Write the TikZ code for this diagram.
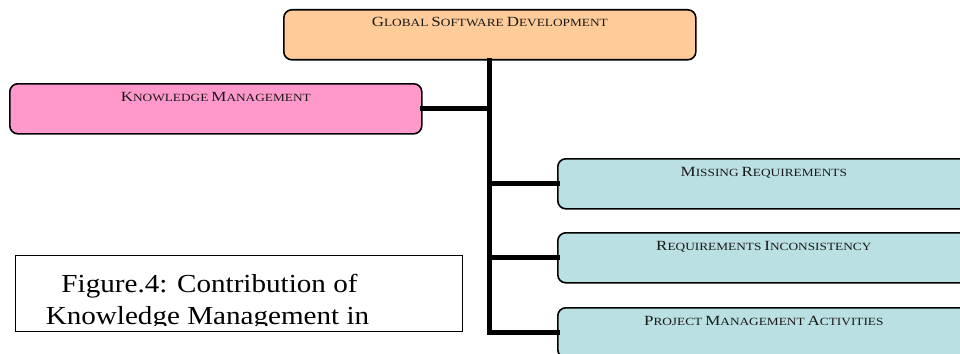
\documentclass[tikz,border=0pt]{standalone}
\usepackage{fontspec}
\setmainfont{Liberation Serif}
\definecolor{gsdfill}{HTML}{FFCC99}
\definecolor{kmfill}{HTML}{FF99CC}
\definecolor{bluefill}{HTML}{BBE0E3}
\newcommand\smc[2]{{\fontsize{14}{14}\selectfont #1}{\fontsize{11}{11}\selectfont #2}}
\newcommand\widelab[1]{\scalebox{1.21}[1]{#1}}
\newcommand\widecap[1]{\scalebox{1.12}[1]{#1}}
\tikzset{
  boxnode/.style={draw=black, line width=1.6pt, rounded corners=8pt, inner sep=0pt,
    anchor=north west, minimum width=412pt, minimum height=50pt},
  lab/.style={anchor=base, inner sep=0pt, text=black!90},
  conn/.style={line width=5pt, draw=black, line cap=rect, line join=miter},
  captext/.style={anchor=base, inner sep=0pt, font=\fontsize{26}{31}\selectfont},
}
\begin{document}
\begin{tikzpicture}[x=1pt,y=-1pt]
\clip (0,0) rectangle (960,353);
\fill[white] (0,0) rectangle (960,353);
\node[boxnode, fill=gsdfill] (gsd) at (283,9) {};
\node[boxnode, fill=kmfill] (km) at (9,83) {};
\node[boxnode, fill=bluefill] (mr) at (557,158) {};
\node[boxnode, fill=bluefill] (ri) at (557,232) {};
\node[boxnode, fill=bluefill] (pm) at (557,307) {};
\draw[conn] (gsd.south) -- (gsd.south |- pm.west) -- (pm.west);
\draw[conn] (km.east) -- (km.east -| gsd.south);
\draw[conn] (mr.west -| gsd.south) -- (mr.west);
\draw[conn] (ri.west -| gsd.south) -- (ri.west);
\node[lab] (gsdL) at ([yshift=-18pt]gsd.north) {\widelab{\smc{G}{LOBAL} \smc{S}{OFTWARE} \smc{D}{EVELOPMENT}}};
\node[lab] (kmL) at ([yshift=-18pt]km.north) {\widelab{\smc{K}{NOWLEDGE} \smc{M}{ANAGEMENT}}};
\node[lab] (mrL) at ([yshift=-18pt]mr.north) {\widelab{\smc{M}{ISSING} \smc{R}{EQUIREMENTS}}};
\node[lab] (riL) at ([yshift=-18pt]ri.north) {\widelab{\smc{R}{EQUIREMENTS} \smc{I}{NCONSISTENCY}}};
\node[lab] (pmL) at ([yshift=-18pt]pm.north) {\widelab{\smc{P}{ROJECT} \smc{M}{ANAGEMENT} \smc{A}{CTIVITIES}}};
% caption box
\node[draw=black, line width=1.3pt, fill=white, inner sep=0pt, anchor=north west,
  minimum width=447pt, minimum height=76pt] (cap) at (15,255) {};
\begin{scope}
\clip (16,256) rectangle (461,325.5);
\node[captext] (cap1) at (209.5,292) {\widecap{Figure.4: Contribution of}};
\node[captext] (cap2) at (207.5,324) {\widecap{Knowledge Management in}};
\end{scope}
\end{tikzpicture}
\end{document}
